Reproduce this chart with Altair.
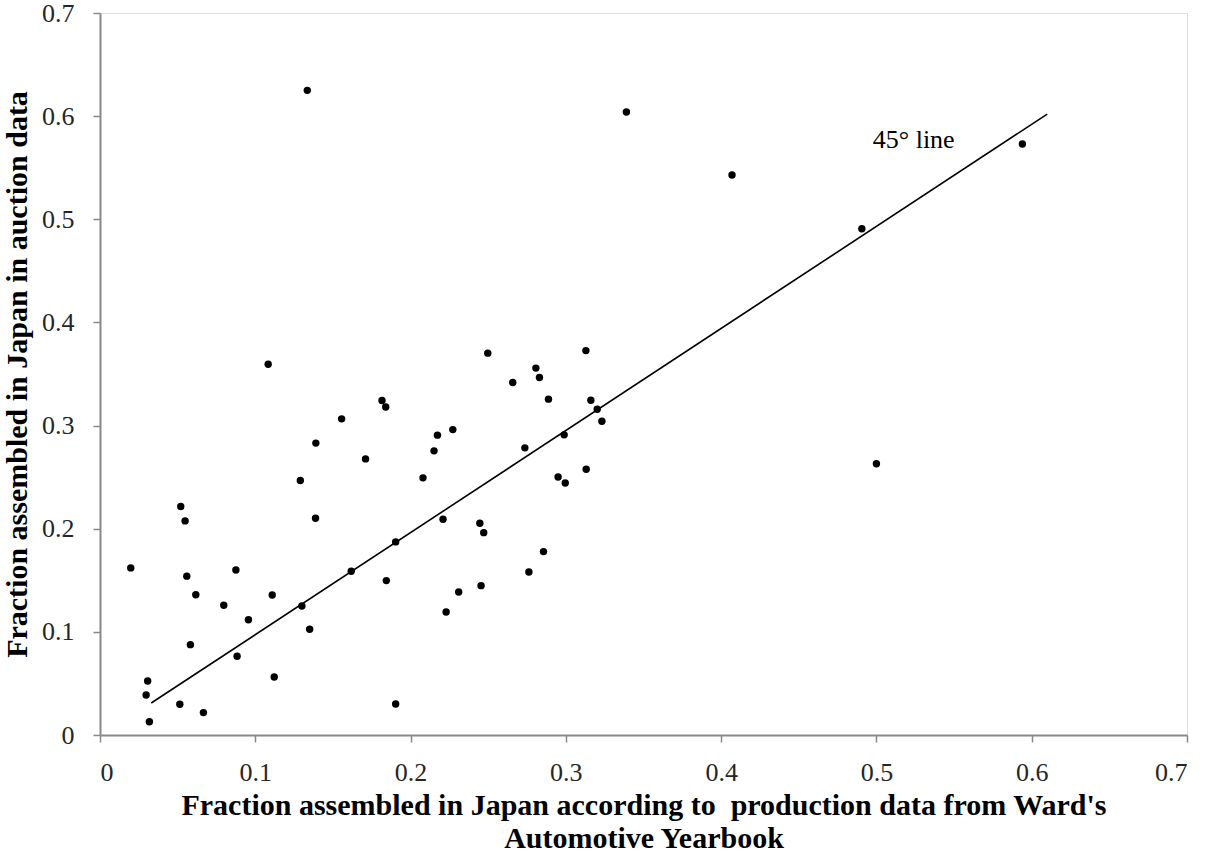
import altair as alt
import pandas as pd

# Share of each model assembled in Japan: Ward's production data (x) vs auction data (y)
wards_share = [
    0.0198, 0.0520, 0.0548, 0.0559, 0.0617, 0.0797, 0.0875, 0.0956, 0.0582, 0.0883,
    0.1109, 0.1122, 0.0307, 0.0297, 0.0318, 0.0514, 0.0666, 0.1290, 0.1390, 0.1388,
    0.1556, 0.1710, 0.1816, 0.1840, 0.1618, 0.1844, 0.1904, 0.1904, 0.1300, 0.1350,
    0.1083, 0.1335, 0.3390, 0.4070, 0.4906, 0.5940, 0.5000, 0.2497, 0.3129, 0.2807,
    0.2830, 0.2658, 0.2888, 0.3161, 0.3202, 0.3232, 0.2272, 0.2173, 0.2151, 0.2736,
    0.2989, 0.2080, 0.2950, 0.2996, 0.3131, 0.2209, 0.2446, 0.2471, 0.2856, 0.2762,
    0.2454, 0.2310, 0.2229,
]
auction_share = [
    0.1620, 0.2215, 0.2076, 0.1540, 0.1360, 0.1258, 0.1600, 0.1118, 0.0876, 0.0763,
    0.1358, 0.0563, 0.0524, 0.0388, 0.0129, 0.0298, 0.0217, 0.2467, 0.2830, 0.2102,
    0.3065, 0.2677, 0.3243, 0.3180, 0.1588, 0.1497, 0.1872, 0.0301, 0.1251, 0.1025,
    0.3595, 0.6250, 0.6040, 0.5430, 0.4908, 0.5730, 0.2630, 0.3702, 0.3727, 0.3557,
    0.3466, 0.3417, 0.3256, 0.3246, 0.3159, 0.3042, 0.2961, 0.2907, 0.2755, 0.2784,
    0.2910, 0.2493, 0.2502, 0.2444, 0.2577, 0.2092, 0.2053, 0.1962, 0.1778, 0.1581,
    0.1448, 0.1387, 0.1193,
]

# Reference line y = x
line_x = [0.033, 0.610]
line_y = [0.031, 0.602]

tick_values = [0, 0.1, 0.2, 0.3, 0.4, 0.5, 0.6, 0.7]

label_text = ["45° line"]
label_x = [0.524]
label_y = [0.569]

FONT = "Liberation Serif, Times New Roman, Times, serif"
GREY = "#888888"

points = pd.DataFrame({"wards": wards_share, "auction": auction_share})
ref = pd.DataFrame({"wards": line_x, "auction": line_y})
lab = pd.DataFrame({"wards": label_x, "auction": label_y, "text": label_text})

x_scale = alt.Scale(domain=[0, 0.7], nice=False, zero=True)
y_scale = alt.Scale(domain=[0, 0.7], nice=False, zero=True)

x_axis = alt.Axis(
    title=["Fraction assembled in Japan according to\u00a0 production data from Ward's",
           "Automotive Yearbook"],
    values=tick_values, format="~g", grid=False,
    domainColor=GREY, domainWidth=2, tickColor=GREY, tickWidth=1.5, tickSize=7,
    labelFont=FONT, labelFontSize=26, labelColor="#262626", labelPadding=17,
    titleFont=FONT, titleFontSize=30, titleFontWeight="bold", titleColor="black",
    titleBaseline="alphabetic", titleY=79, titleLineHeight=33,
)
y_axis = alt.Axis(
    title="Fraction assembled in Japan in auction data",
    values=tick_values, format="~g", grid=False,
    domainColor=GREY, domainWidth=2, tickColor=GREY, tickWidth=1.5, tickSize=7,
    labelFont=FONT, labelFontSize=26, labelColor="#262626", labelPadding=19,
    titleFont=FONT, titleFontSize=30, titleFontWeight="bold", titleColor="black",
    titleAngle=270, titleBaseline="alphabetic", titleAlign="center",
    titleX=-74, titleY=361,
)

scatter = alt.Chart(points).mark_circle(size=55, color="black", opacity=1).encode(
    x=alt.X("wards:Q", scale=x_scale, axis=x_axis),
    y=alt.Y("auction:Q", scale=y_scale, axis=y_axis),
)

diag = alt.Chart(ref).mark_line(color="black", strokeWidth=1.6).encode(
    x=alt.X("wards:Q", scale=x_scale),
    y=alt.Y("auction:Q", scale=y_scale),
)

note = alt.Chart(lab).mark_text(
    font=FONT, fontSize=26, color="black", align="center", baseline="alphabetic"
).encode(
    x=alt.X("wards:Q", scale=x_scale),
    y=alt.Y("auction:Q", scale=y_scale),
    text="text:N",
)

chart = (
    alt.layer(diag, scatter, note)
    .properties(
        width=1087,
        height=722,
        autosize=alt.AutoSizeParams(type="none"),
        padding={"left": 100, "top": 13, "right": 19, "bottom": 118},
    )
    .configure_view(stroke=None)
    .configure(background="white")
)

chart.save("out.html", embed_options={"renderer": "svg", "actions": False})
